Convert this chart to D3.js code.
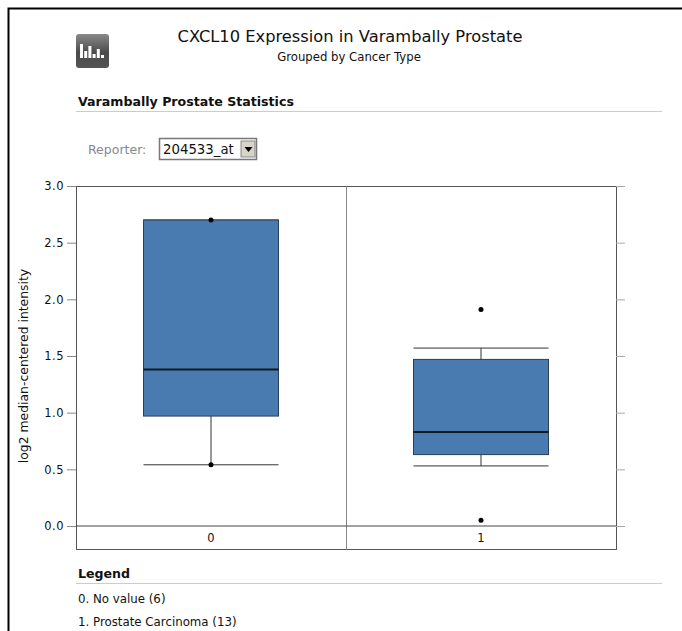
<!DOCTYPE html>
<html>
<head>
<meta charset="utf-8">
<script src="https://cdn.jsdelivr.net/npm/d3@7"></script>
<style>
  html, body { margin: 0; padding: 0; background: #fff; overflow: hidden; }
  text { font-family: "DejaVu Sans", sans-serif; fill: #111; }
</style>
</head>
<body>
<svg width="682" height="631"></svg>
<script>
const categories = ["0", "1"];
const q1 = [0.97, 0.63];
const medians = [1.38, 0.83];
const q3 = [2.7, 1.47];
const whiskerLow = [0.54, 0.53];
const whiskerHigh = [2.7, 1.57];
const outliers = [[0.54, 2.7], [0.05, 1.91]];
const yTicks = [0, 0.5, 1, 1.5, 2, 2.5, 3];
const legendItems = ["0. No value (6)", "1. Prostate Carcinoma (13)"];
const iconBars = [14, 7, 12, 4, 9, 3];

const svg = d3.select("svg");

const plotLeft = 76;
const plotRight = 616;
const plotTop = 186;
const plotBottom = 549;
const zeroY = 526;

const xScale = d3.scaleBand().domain(categories).range([plotLeft, plotRight]).paddingInner(0).paddingOuter(0);

const yScale = d3
  .scaleLinear()
  .domain([0, 3])
  .range([zeroY, plotTop]);

const boxWidth = xScale.bandwidth() * 0.5;
const center = (i) => xScale(categories[i]) + xScale.bandwidth() / 2;

// outer page border
svg.append("path")
  .attr("d", "M8.5,631V8.5H682")
  .attr("fill", "none")
  .attr("stroke", "#000")
  .attr("stroke-width", 2);

// icon
const defs = svg.append("defs");
const grad = defs.append("linearGradient").attr("id", "iconGrad").attr("x1", 0).attr("x2", 0).attr("y1", 0).attr("y2", 1);
grad.append("stop").attr("offset", "0%").attr("stop-color", "#8a8a8a");
grad.append("stop").attr("offset", "55%").attr("stop-color", "#4a4a4a");
grad.append("stop").attr("offset", "100%").attr("stop-color", "#555");
svg.append("rect")
  .attr("x", 76).attr("y", 34).attr("width", 33).attr("height", 34).attr("rx", 3)
  .attr("fill", "url(#iconGrad)");
svg.append("g").selectAll("rect").data(iconBars).join("rect")
  .attr("x", (d, i) => 80 + i * 4.2)
  .attr("y", (d) => 58 - d)
  .attr("width", 3)
  .attr("height", (d) => d)
  .attr("fill", "#fff");

// headings
svg.append("text").text("CXCL10 Expression in Varambally Prostate")
  .attr("x", 350).attr("y", 42).attr("text-anchor", "middle")
  .style("font-size", "16.3px").style("font-weight", "500");
svg.append("text").text("Grouped by Cancer Type")
  .attr("x", 349).attr("y", 61).attr("text-anchor", "middle")
  .style("font-size", "11.7px");

function sectionHead(label, y) {
  svg.append("text").text(label)
    .attr("x", 78).attr("y", y)
    .style("font-size", "12.6px").style("font-weight", "bold");
  svg.append("line")
    .attr("x1", 76).attr("x2", 662).attr("y1", y + 5.5).attr("y2", y + 5.5)
    .attr("stroke", "#ccc");
}
sectionHead("Varambally Prostate Statistics", 106);

// reporter dropdown
svg.append("text").text("Reporter:")
  .attr("x", 88).attr("y", 154)
  .style("font-size", "12.5px").style("fill", "#888");
svg.append("rect").attr("x", 159.5).attr("y", 138.5).attr("width", 97).attr("height", 21)
  .attr("fill", "#fff").attr("stroke", "#777").attr("stroke-width", 1.5);
svg.append("text").text("204533_at")
  .attr("x", 163).attr("y", 154)
  .style("font-size", "13.3px");
svg.append("rect").attr("x", 241).attr("y", 141).attr("width", 14).attr("height", 16)
  .attr("fill", "#d8d4c8").attr("stroke", "#888");
svg.append("path").attr("d", "M244.5,147h8l-4,5z").attr("fill", "#000");

// plot frame
const frame = svg.append("g").attr("transform", "translate(0.5,0.5)");
frame.append("rect")
  .attr("x", plotLeft).attr("y", plotTop)
  .attr("width", plotRight - plotLeft).attr("height", plotBottom - plotTop)
  .attr("fill", "#fff").attr("stroke", "#555");
frame.append("line")
  .attr("x1", xScale("1")).attr("x2", xScale("1"))
  .attr("y1", plotTop).attr("y2", plotBottom)
  .attr("stroke", "#888");

// y axis, ticks stick out on both sides
const yAxis = d3.axisLeft(yScale).tickValues(yTicks).tickFormat(d3.format(".1f")).tickSize(9).tickPadding(3);
const yG = svg.append("g").attr("transform", `translate(${plotLeft},0)`).call(yAxis);
yG.select(".domain").remove();
yG.selectAll("line").attr("stroke", "#888");
yG.selectAll("text").style("font-size", "11.5px").style("letter-spacing", "0.5px");

const yRight = d3.axisRight(yScale).tickValues(yTicks).tickFormat("").tickSize(9);
const yRightG = svg.append("g").attr("transform", `translate(${plotRight},0)`).call(yRight);
yRightG.select(".domain").remove();
yRightG.selectAll("line").attr("stroke", "#aaa");

// zero line
svg.append("line")
  .attr("x1", plotLeft).attr("x2", plotRight)
  .attr("y1", yScale(0)).attr("y2", yScale(0))
  .attr("stroke", "#444").attr("stroke-width", 1.2);

// category labels
svg.append("g").selectAll("text").data(categories).join("text")
  .text((d) => d)
  .attr("x", (d, i) => center(i))
  .attr("y", 542)
  .attr("text-anchor", "middle")
  .style("font-size", "11.5px");

svg.append("text").text("log2 median-centered intensity")
  .attr("transform", "translate(28,366) rotate(-90)")
  .attr("text-anchor", "middle")
  .style("font-size", "12.4px");

// boxes
const boxes = svg.append("g").selectAll("g").data(categories).join("g");

boxes.append("line")
  .attr("x1", (d, i) => center(i)).attr("x2", (d, i) => center(i))
  .attr("y1", (d, i) => yScale(whiskerLow[i])).attr("y2", (d, i) => yScale(whiskerHigh[i]))
  .attr("stroke", "#333");
boxes.append("line")
  .attr("x1", (d, i) => center(i) - boxWidth / 2).attr("x2", (d, i) => center(i) + boxWidth / 2)
  .attr("y1", (d, i) => yScale(whiskerLow[i])).attr("y2", (d, i) => yScale(whiskerLow[i]))
  .attr("stroke", "#333");
boxes.append("line")
  .attr("x1", (d, i) => center(i) - boxWidth / 2).attr("x2", (d, i) => center(i) + boxWidth / 2)
  .attr("y1", (d, i) => yScale(whiskerHigh[i])).attr("y2", (d, i) => yScale(whiskerHigh[i]))
  .attr("stroke", "#333");
boxes.append("rect")
  .attr("x", (d, i) => center(i) - boxWidth / 2)
  .attr("width", boxWidth)
  .attr("y", (d, i) => yScale(q3[i]))
  .attr("height", (d, i) => yScale(q1[i]) - yScale(q3[i]))
  .attr("fill", "#4a7bb0")
  .attr("stroke", "#2b3f55");
boxes.append("line")
  .attr("x1", (d, i) => center(i) - boxWidth / 2).attr("x2", (d, i) => center(i) + boxWidth / 2)
  .attr("y1", (d, i) => yScale(medians[i])).attr("y2", (d, i) => yScale(medians[i]))
  .attr("stroke", "#101820").attr("stroke-width", 2);
boxes.selectAll("circle").data((d, i) => outliers[i].map((v) => ({ v, i }))).join("circle")
  .attr("cx", (d) => center(d.i))
  .attr("cy", (d) => yScale(d.v))
  .attr("r", 2.5)
  .attr("fill", "#000");

// legend
sectionHead("Legend", 578);
svg.append("g").selectAll("text").data(legendItems).join("text")
  .text((d) => d)
  .attr("x", 78)
  .attr("y", (d, i) => 603 + i * 23)
  .style("font-size", "11.8px");
</script>
</body>
</html>
